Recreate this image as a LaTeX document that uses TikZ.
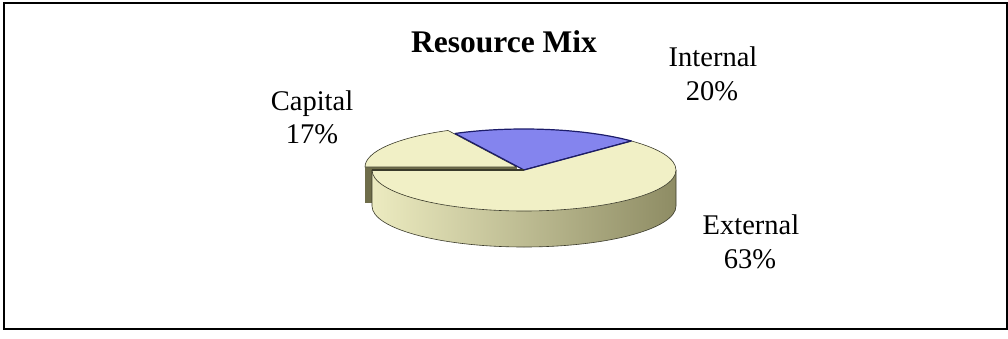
\documentclass[tikz,border=0pt]{standalone}
\usepackage{fontspec}
\setmainfont{Liberation Serif}
\usetikzlibrary{calc}
\definecolor{topY}{HTML}{F1F0C6}
\definecolor{blueFill}{HTML}{8484EE}
\definecolor{blueLine}{HTML}{1C1C6A}
\definecolor{sideL}{HTML}{ECEBC0}
\definecolor{sideM}{HTML}{C8C6A0}
\definecolor{sideR}{HTML}{8E8C64}
\definecolor{cutFace}{HTML}{6F6D4A}
\definecolor{edgeC}{HTML}{3A3A2A}
\tikzset{
  lbl/.style={font=\fontsize{28.5}{34}\selectfont, anchor=base, inner sep=0pt},
  ttl/.style={font=\fontsize{31.5}{38}\selectfont\bfseries, anchor=base, inner sep=0pt},
  slice/.style={draw=edgeC, line width=0.6pt, line join=round},
}
\begin{document}
\begin{tikzpicture}[x=1pt,y=1pt]
\useasboundingbox (0,0) rectangle (1008,338);
\fill[white] (0,0) rectangle (1008,338);
\draw[line width=2pt] (4,9) rectangle (1006.5,335);
% centres
\coordinate (Oc) at (517,171);
\coordinate (O) at (524,168);
% capital cut face (exposed radius at 180 deg)
\fill[cutFace] (Oc) -- ($(Oc)+(-152,0)$) -- ($(Oc)+(-152,-36)$) -- ($(Oc)+(0,-36)$) -- cycle;
% capital top
\filldraw[slice, fill=topY] (Oc) -- ($(Oc)+(117:152pt and 41pt)$)
  arc[start angle=117, end angle=180, x radius=152pt, y radius=41pt] -- cycle;
% internal top
\filldraw[fill=blueFill, draw=blueLine, line width=1.2pt, line join=round] (O) -- ($(O)+(45:152pt and 41pt)$)
  arc[start angle=45, end angle=117, x radius=152pt, y radius=41pt] -- cycle;
% external side wall
\shade[left color=sideL, middle color=sideM, right color=sideR]
  ($(O)+(-152,0)$) arc[start angle=180, end angle=360, x radius=152pt, y radius=41pt]
  -- ++(0,-36) arc[start angle=360, end angle=180, x radius=152pt, y radius=41pt] -- cycle;
\draw[edgeC, line width=0.6pt]
  ($(O)+(-152,0)$) -- ++(0,-36) arc[start angle=180, end angle=360, x radius=152pt, y radius=41pt] -- ++(0,36);
% external top
\filldraw[slice, fill=topY] (O) -- ($(O)+(180:152pt and 41pt)$)
  arc[start angle=180, end angle=405, x radius=152pt, y radius=41pt] -- cycle;
\draw[edgeC, line width=1.4pt] (O) -- ($(O)+(180:152pt and 41pt)$);
\draw[blueLine, line width=1.2pt] (O) -- ($(O)+(45:152pt and 41pt)$);
% texts
\node[ttl] (title) at (504,285) {Resource Mix};
\node[lbl] (capA) at (312,228) {Capital};
\node[lbl] (capB) at (312,195) {17\%};
\node[lbl] (intA) at (713,271) {Internal};
\node[lbl] (intB) at (712,237) {20\%};
\node[lbl] (extA) at (751,104) {External};
\node[lbl] (extB) at (750,70) {63\%};
\end{tikzpicture}
\end{document}
